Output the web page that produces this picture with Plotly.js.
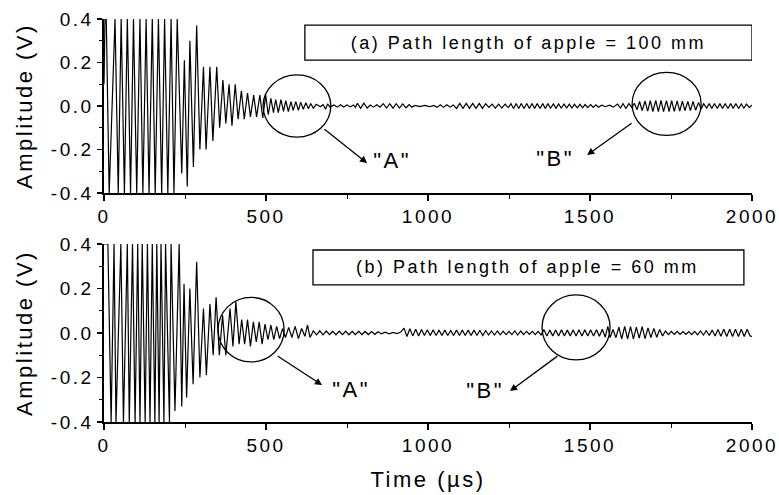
<!DOCTYPE html>
<html>
<head>
<meta charset="utf-8">
<script src="https://cdn.plot.ly/plotly-3.0.1.min.js"></script>
<style>
html,body{margin:0;padding:0;background:#fff;}
#chart{width:779px;height:495px;}
.main-svg text{letter-spacing:2.5px;}
</style>
</head>
<body>
<div id="chart"></div>
<script>
// ---- Panel (a): path length 100 mm — waveform extrema (time in µs, amplitude in V)
const tA = [0,3,7,16,34,44,53,63,72,82,91,101,111,120,130,139,149,158,168,178,187,197,207,216,226,
  240,248,257,265,276,286,296,307,315,327,336,348,357,367,376,386,395,405,414,424,433,443,452,462,471,481,
  490,499,507,515,523,530,538,546,554,561,569,577,584,592,600,607,615,623,631,638,646,655,668,676,684,690,698,
  710,720,730,740,750,760,770,776,782,792,802,812,822,832,842,852,862,872,882,892,902,912,922,932,942,950,
  960,975,990,1005,1018,1028,1038,1048,1058,1068,1078,1088,1098,1108,1118,1128,1138,1148,1158,1168,1178,
  1188,1198,1208,1218,1228,1238,1248,
  1256,1264,1272,1280,1288,1296,1305,1313,1321,1329,1337,1346,1354,1362,1370,1378,1387,1395,1403,1411,1420,
  1428,1436,1444,1452,1461,1469,1477,1485,1493,1502,1510,1518,1526,1536,1548,1560,1572,1585,1594,1602,1611,
  1620,1629,1637,1645,1653,1661,1670,1678,1686,1694,1703,1711,1719,1727,1736,1744,1752,1760,1769,1777,1785,
  1793,1802,1810,1818,1826,1835,1843,1851,1860,1868,1876,1884,1893,1901,1909,1917,1926,1934,1942,1950,1959,
  1967,1975,1983,1992,2000];
const vA = [0.1,0.4,0.4,-0.4,0.4,-0.4,0.4,-0.4,0.4,-0.4,0.4,-0.4,0.4,-0.4,0.4,-0.4,0.4,-0.4,0.4,-0.4,0.4,-0.4,0.4,-0.4,0.4,
  -0.31,0.21,-0.37,0.30,-0.28,0.37,-0.20,0.18,-0.20,0.18,-0.16,0.18,-0.10,0.12,-0.08,0.10,-0.09,0.10,-0.06,0.07,-0.06,0.06,-0.05,0.05,-0.05,0.05,
  -0.055,0.05,-0.04,0.035,-0.03,0.03,-0.03,0.03,-0.025,0.025,-0.025,0.02,-0.02,0.02,-0.02,0.018,-0.015,0.015,-0.012,0.012,-0.01,0.008,-0.003,0.006,-0.015,0.01,-0.005,
  0.005,-0.005,0.006,-0.004,0.005,-0.004,0.005,-0.006,0.013,-0.011,0.013,-0.009,0.005,-0.005,0.006,-0.005,0.011,-0.009,0.011,-0.01,0.011,-0.009,0.01,-0.008,0.007,-0.005,
  0.003,-0.003,0.003,-0.003,0.003,-0.006,0.006,-0.006,0.006,-0.005,0.005,-0.011,0.012,-0.011,0.012,-0.011,0.012,-0.011,0.012,-0.011,0.011,
  -0.006,0.009,-0.009,0.009,-0.009,0.009,-0.007,
  0.011,-0.011,0.012,-0.011,0.012,-0.011,0.012,-0.011,0.012,-0.011,0.011,-0.011,0.011,-0.011,0.011,-0.01,0.01,-0.01,0.01,-0.009,0.009,
  -0.009,0.009,-0.009,0.008,-0.008,0.008,-0.008,0.007,-0.007,0.007,-0.006,0.006,-0.005,0.004,-0.003,0.004,-0.005,0.009,-0.009,0.011,-0.011,
  0.011,-0.006,0.013,-0.017,0.021,-0.021,0.023,-0.023,0.025,-0.025,0.026,-0.026,0.026,-0.026,0.025,-0.025,0.025,-0.024,0.024,-0.023,0.023,
  -0.021,0.021,-0.021,0.021,-0.019,0.017,-0.013,0.011,-0.009,0.011,-0.011,0.011,-0.011,0.011,-0.011,0.011,-0.011,0.011,-0.011,0.011,-0.011,
  0.01,-0.01,0.009,-0.007,0.005];

// ---- Panel (b): path length 60 mm
const tB = [0,4,12,22,31,37,52,60,72,78,88,96,104,111,118,127,134,142,149,157,163,170,176,185,190,202,207,219,232,
  240,247,255,265,275,286,296,307,316,327,337,346,356,366,376,389,398,407,417,425,
  434,443,452,461,470,479,488,497,506,515,524,533,542,551,560,570,580,590,600,610,620,628,636,
  646,656,666,676,686,696,706,716,726,736,746,756,766,776,786,796,806,816,826,836,846,856,868,880,892,904,916,
  926,935,944,953,962,971,980,989,998,1007,1016,1025,1034,1043,1052,1061,1070,1079,
  1088,1097,1106,1115,1124,1133,1142,1151,1160,1169,1178,
  1187,1196,1205,1214,1223,1232,1241,1250,1259,1268,1277,1286,1295,1304,1313,1322,1331,1340,
  1349,1358,1367,1376,1385,1394,1403,1412,1421,1430,1439,1448,1457,1466,1475,1484,1493,1502,1511,1520,1529,1538,1547,1555,1562,
  1571,1580,1589,1598,1607,1616,1625,1634,1643,1652,1661,1670,1679,1688,1697,1706,1715,1724,
  1733,1742,1751,1760,1769,1778,1787,1796,1805,1814,1823,1832,1841,1850,1859,1868,1877,
  1886,1895,1904,1913,1922,1931,1940,1949,1958,1967,1976,1985,1994,2000];
const vB = [0.4,0.4,0.4,-0.4,0.4,-0.4,0.4,-0.4,0.4,-0.4,0.4,-0.4,0.4,-0.4,0.4,-0.4,0.4,-0.4,0.4,-0.4,0.4,-0.4,0.4,-0.4,0.4,-0.4,0.4,-0.35,0.4,
  -0.33,0.22,-0.29,0.2,-0.23,0.32,-0.2,0.11,-0.19,0.13,-0.1,0.16,-0.1,0.08,-0.1,0.11,-0.06,0.14,-0.05,0.06,
  -0.05,0.06,-0.06,0.05,-0.04,0.05,-0.05,0.04,-0.03,0.035,-0.03,0.03,-0.025,0.02,-0.02,0.025,-0.02,0.03,-0.025,0.02,-0.015,0.035,-0.02,
  0.01,-0.008,0.01,-0.008,0.009,-0.007,0.007,-0.008,0.008,-0.007,0.008,-0.008,0.007,-0.007,0.008,-0.007,0.007,-0.007,0.007,-0.006,0.006,-0.004,0.004,-0.004,0.003,-0.003,0.004,
  0.022,-0.016,0.019,-0.013,0.017,-0.013,0.016,-0.011,0.015,-0.011,0.014,-0.011,0.013,-0.011,0.013,-0.011,0.011,-0.011,
  0.013,-0.011,0.013,-0.011,0.013,-0.011,0.013,-0.011,0.012,-0.011,0.011,
  -0.009,0.009,-0.009,0.009,-0.008,0.008,-0.007,0.007,-0.007,0.009,-0.009,0.009,-0.007,0.007,-0.006,0.007,-0.007,0.007,
  -0.009,0.015,-0.013,0.013,-0.013,0.013,-0.013,0.014,-0.013,0.013,-0.013,0.014,-0.014,0.015,-0.013,0.014,-0.013,0.014,-0.014,0.015,-0.015,0.017,-0.019,0.03,-0.021,
  0.016,-0.021,0.026,-0.026,0.03,-0.026,0.029,-0.026,0.026,-0.023,0.029,-0.025,0.023,-0.021,0.021,-0.019,0.016,-0.013,
  0.009,-0.007,0.007,-0.006,0.007,-0.006,0.006,-0.006,0.006,-0.007,0.007,-0.008,0.009,-0.009,0.011,-0.011,0.013,
  -0.013,0.016,-0.015,0.017,-0.016,0.017,-0.016,0.017,-0.016,0.017,-0.016,0.017,-0.013,-0.016];

// ---- Axis ticks and labels
const yTickVals = [-0.4, -0.2, 0.0, 0.2, 0.4];
const yTickText = ["-0.4", "-0.2", "0.0", "0.2", "0.4"];
const xTickVals = [0, 500, 1000, 1500, 2000];
const xTickText = ["0", "500", "1000", "1500", "2000"];
const panelLabels = ["(a) Path length of apple = 100 mm", "(b) Path length of apple = 60 mm"];
const markLabels = ['"A"', '"B"'];
const xTitle = "Time (\u00b5s)";
const yTitle = "Amplitude (V)";

const FONT = "Liberation Sans, Arial, Helvetica, sans-serif";

const traces = [
  {x: tA, y: vA, xaxis: 'x', yaxis: 'y', type: 'scatter', mode: 'lines',
   line: {color: '#000', width: 1.2}, hoverinfo: 'skip'},
  {x: tB, y: vB, xaxis: 'x2', yaxis: 'y2', type: 'scatter', mode: 'lines',
   line: {color: '#000', width: 1.2}, hoverinfo: 'skip'}
];

function xAxis(anchor, withTitle) {
  const ax = {
    domain: [0, 1], anchor: anchor, range: [0, 2000], showgrid: false, zeroline: false,
    showline: true, linecolor: '#000', linewidth: 1.6, mirror: false,
    ticks: 'outside', ticklen: 6, tickwidth: 1.4, tickcolor: '#000',
    tickmode: 'array', tickvals: xTickVals, ticktext: xTickText,
    tickfont: {family: FONT, size: 19, color: '#000'},
    minor: {tickmode: 'linear', tick0: 0, dtick: 250, ticks: 'outside', ticklen: 4, tickwidth: 1, tickcolor: '#000', showgrid: false},
    fixedrange: true
  };
  if (withTitle) {
    ax.title = {text: xTitle, font: {family: FONT, size: 22, color: '#000'}, standoff: 16};
  }
  return ax;
}
function yAxis(anchor, dom) {
  return {
    domain: dom, anchor: anchor, range: [-0.4, 0.4], showgrid: false, zeroline: false,
    showline: true, linecolor: '#000', linewidth: 1.6,
    ticks: 'outside', ticklen: 5, tickwidth: 1.4, tickcolor: '#000',
    tickmode: 'array', tickvals: yTickVals, ticktext: yTickText,
    tickfont: {family: FONT, size: 19, color: '#000'},
    minor: {tickmode: 'linear', tick0: -0.4, dtick: 0.1, ticks: 'outside', ticklen: 3, tickwidth: 1, tickcolor: '#000', showgrid: false},
    title: {text: yTitle, font: {family: FONT, size: 22, color: '#000'}, standoff: 22},
    fixedrange: true
  };
}

const boxLine = {color: '#000', width: 1.3};
const shapes = [
  // label boxes
  {type: 'rect', xref: 'x', yref: 'y', x0: 620, x1: 2000, y0: 0.211, y1: 0.372, line: boxLine, fillcolor: 'rgba(0,0,0,0)'},
  {type: 'rect', xref: 'x2', yref: 'y2', x0: 645, x1: 1975, y0: 0.216, y1: 0.373, line: boxLine, fillcolor: 'rgba(0,0,0,0)'},
  // circles
  {type: 'circle', xref: 'x', yref: 'y', x0: 491, x1: 700, y0: -0.143, y1: 0.143, line: boxLine},
  {type: 'circle', xref: 'x', yref: 'y', x0: 1630, x1: 1843, y0: -0.135, y1: 0.155, line: boxLine},
  {type: 'circle', xref: 'x2', yref: 'y2', x0: 352, x1: 556, y0: -0.13, y1: 0.16, line: boxLine},
  {type: 'circle', xref: 'x2', yref: 'y2', x0: 1352, x1: 1562, y0: -0.121, y1: 0.171, line: boxLine}
];

const txtFont = {family: FONT, size: 18, color: '#000'};
const bigFont = {family: FONT, size: 22, color: '#000'};
function arrow(xr, yr, x, y, ax, ay) {
  return {xref: xr, yref: yr, axref: xr, ayref: yr, x: x, y: y, ax: ax, ay: ay, text: '',
    showarrow: true, arrowhead: 2, arrowsize: 1.1, arrowwidth: 1.3, arrowcolor: '#000', standoff: 0, startstandoff: 0};
}
const annotations = [
  {xref: 'x', yref: 'y', x: 1309, y: 0.292, text: panelLabels[0], showarrow: false, font: txtFont},
  {xref: 'x2', yref: 'y2', x: 1306, y: 0.295, text: panelLabels[1], showarrow: false, font: txtFont},
  arrow('x', 'y', 812, -0.262, 676, -0.101),
  arrow('x', 'y', 1491, -0.225, 1633, -0.074),
  arrow('x2', 'y2', 673, -0.234, 531, -0.099),
  arrow('x2', 'y2', 1253, -0.261, 1404, -0.099),
  {xref: 'x', yref: 'y', x: 889, y: -0.248, text: markLabels[0], showarrow: false, font: bigFont},
  {xref: 'x', yref: 'y', x: 1393, y: -0.24, text: markLabels[1], showarrow: false, font: bigFont},
  {xref: 'x2', yref: 'y2', x: 762, y: -0.254, text: markLabels[0], showarrow: false, font: bigFont},
  {xref: 'x2', yref: 'y2', x: 1176, y: -0.26, text: markLabels[1], showarrow: false, font: bigFont}
];

const layout = {
  width: 779, height: 495,
  margin: {l: 104, r: 27, t: 19, b: 73, autoexpand: false},
  paper_bgcolor: '#fff', plot_bgcolor: '#fff',
  showlegend: false,
  font: {family: FONT, color: '#000'},
  xaxis: xAxis('y', false),
  yaxis: yAxis('x', [0.568, 1]),
  xaxis2: xAxis('y2', true),
  yaxis2: yAxis('x2', [0, 0.4417]),
  shapes: shapes,
  annotations: annotations
};

Plotly.newPlot('chart', traces, layout, {staticPlot: true, displayModeBar: false});
</script>
</body>
</html>
